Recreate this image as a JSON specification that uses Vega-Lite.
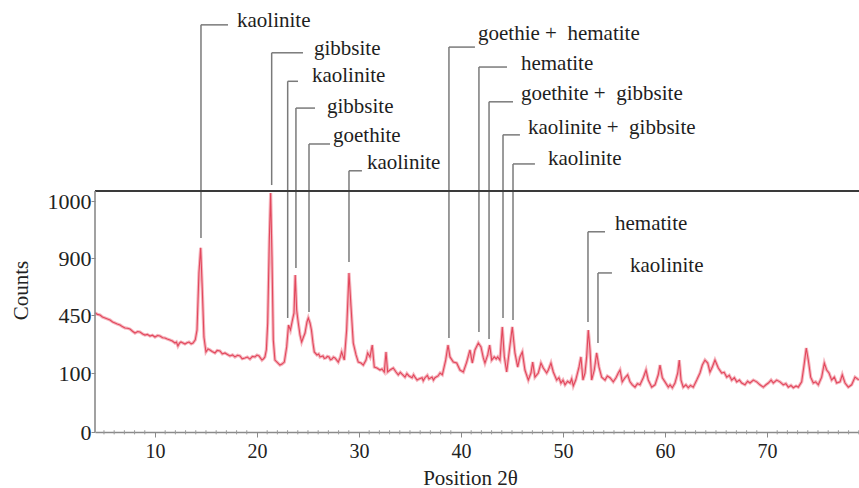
{
  "$schema": "https://vega.github.io/schema/vega-lite/v6.json",
  "width": 764,
  "height": 432,
  "autosize": "none",
  "padding": {"left": 95, "top": 0, "right": 0, "bottom": 56},
  "background": "white",
  "config": {
    "view": {"stroke": null},
    "font": "Liberation Serif",
    "text": {"font": "Times New Roman"},
    "axis": {"labelFont": "Liberation Serif", "titleFont": "Liberation Serif", "labelColor": "#222", "titleColor": "#222", "titleFontWeight": "normal", "grid": false}
  },
  "datasets": {
    "pattern": [
      {"t": 4.12, "c": 468}, {"t": 4.35, "c": 455}, {"t": 4.61, "c": 450}, {"t": 4.85, "c": 438}, {"t": 5.10, "c": 432},
      {"t": 5.35, "c": 426}, {"t": 5.59, "c": 420}, {"t": 5.85, "c": 408}, {"t": 6.08, "c": 402}, {"t": 6.3, "c": 396},
      {"t": 6.57, "c": 390}, {"t": 6.8, "c": 380}, {"t": 7.06, "c": 372}, {"t": 7.3, "c": 370}, {"t": 7.55, "c": 365},
      {"t": 7.8, "c": 352}, {"t": 8.04, "c": 341}, {"t": 8.3, "c": 350}, {"t": 8.53, "c": 347}, {"t": 8.8, "c": 335},
      {"t": 9.02, "c": 329}, {"t": 9.25, "c": 333}, {"t": 9.51, "c": 323}, {"t": 9.75, "c": 328}, {"t": 10.0, "c": 317},
      {"t": 10.25, "c": 326}, {"t": 10.49, "c": 323}, {"t": 10.75, "c": 313}, {"t": 10.98, "c": 311}, {"t": 11.2, "c": 305},
      {"t": 11.47, "c": 299}, {"t": 11.7, "c": 293}, {"t": 11.96, "c": 281}, {"t": 12.1, "c": 287}, {"t": 12.25, "c": 263},
      {"t": 12.4, "c": 280}, {"t": 12.55, "c": 287}, {"t": 12.75, "c": 281}, {"t": 12.94, "c": 275}, {"t": 13.15, "c": 283},
      {"t": 13.33, "c": 287}, {"t": 13.55, "c": 276}, {"t": 13.73, "c": 281}, {"t": 13.95, "c": 300}, {"t": 14.12, "c": 359},
      {"t": 14.31, "c": 782}, {"t": 14.48, "c": 918}, {"t": 14.64, "c": 647}, {"t": 14.80, "c": 317}, {"t": 15.0, "c": 227},
      {"t": 15.2, "c": 245}, {"t": 15.39, "c": 239}, {"t": 15.6, "c": 230}, {"t": 15.88, "c": 221}, {"t": 16.1, "c": 236},
      {"t": 16.37, "c": 233}, {"t": 16.6, "c": 215}, {"t": 16.86, "c": 221}, {"t": 17.1, "c": 212}, {"t": 17.35, "c": 203},
      {"t": 17.6, "c": 209}, {"t": 17.84, "c": 197}, {"t": 18.1, "c": 207}, {"t": 18.33, "c": 203}, {"t": 18.55, "c": 186},
      {"t": 18.82, "c": 191}, {"t": 19.05, "c": 196}, {"t": 19.31, "c": 184}, {"t": 19.55, "c": 200}, {"t": 19.80, "c": 197},
      {"t": 20.0, "c": 208}, {"t": 20.20, "c": 203}, {"t": 20.35, "c": 190}, {"t": 20.49, "c": 178}, {"t": 20.65, "c": 186},
      {"t": 20.78, "c": 197}, {"t": 20.92, "c": 240}, {"t": 21.05, "c": 402}, {"t": 21.21, "c": 932}, {"t": 21.34, "c": 1014},
      {"t": 21.47, "c": 902}, {"t": 21.60, "c": 299}, {"t": 21.76, "c": 178}, {"t": 22.06, "c": 160}, {"t": 22.25, "c": 148},
      {"t": 22.45, "c": 154}, {"t": 22.68, "c": 166}, {"t": 22.91, "c": 257}, {"t": 23.09, "c": 390}, {"t": 23.28, "c": 359},
      {"t": 23.48, "c": 420}, {"t": 23.63, "c": 466}, {"t": 23.75, "c": 766}, {"t": 23.89, "c": 489}, {"t": 24.05, "c": 402},
      {"t": 24.22, "c": 329}, {"t": 24.38, "c": 287}, {"t": 24.56, "c": 317}, {"t": 24.71, "c": 341}, {"t": 24.90, "c": 408},
      {"t": 25.03, "c": 432}, {"t": 25.20, "c": 402}, {"t": 25.34, "c": 359}, {"t": 25.49, "c": 281}, {"t": 25.62, "c": 227},
      {"t": 25.88, "c": 209}, {"t": 26.05, "c": 215}, {"t": 26.18, "c": 197}, {"t": 26.47, "c": 203}, {"t": 26.6, "c": 188},
      {"t": 26.76, "c": 191}, {"t": 26.9, "c": 200}, {"t": 27.06, "c": 197}, {"t": 27.2, "c": 180}, {"t": 27.35, "c": 184},
      {"t": 27.5, "c": 196}, {"t": 27.65, "c": 191}, {"t": 27.97, "c": 166}, {"t": 28.14, "c": 191}, {"t": 28.30, "c": 227},
      {"t": 28.56, "c": 178}, {"t": 28.79, "c": 359}, {"t": 29.02, "c": 782}, {"t": 29.22, "c": 513}, {"t": 29.44, "c": 281},
      {"t": 29.71, "c": 209}, {"t": 29.93, "c": 166}, {"t": 30.20, "c": 160}, {"t": 30.42, "c": 148}, {"t": 30.69, "c": 178},
      {"t": 30.85, "c": 221}, {"t": 31.08, "c": 197}, {"t": 31.30, "c": 269}, {"t": 31.50, "c": 136}, {"t": 31.76, "c": 130},
      {"t": 32.06, "c": 118}, {"t": 32.25, "c": 124}, {"t": 32.48, "c": 106}, {"t": 32.65, "c": 227}, {"t": 32.81, "c": 106},
      {"t": 33.04, "c": 118}, {"t": 33.36, "c": 130}, {"t": 33.63, "c": 106}, {"t": 33.85, "c": 97}, {"t": 34.05, "c": 104},
      {"t": 34.22, "c": 98}, {"t": 34.51, "c": 93}, {"t": 34.7, "c": 99}, {"t": 34.90, "c": 95}, {"t": 35.20, "c": 92},
      {"t": 35.35, "c": 97}, {"t": 35.49, "c": 93}, {"t": 35.7, "c": 88}, {"t": 35.88, "c": 90}, {"t": 36.18, "c": 92},
      {"t": 36.3, "c": 87}, {"t": 36.47, "c": 92}, {"t": 36.7, "c": 96}, {"t": 36.86, "c": 90}, {"t": 37.16, "c": 93},
      {"t": 37.3, "c": 88}, {"t": 37.45, "c": 92}, {"t": 37.75, "c": 95}, {"t": 37.95, "c": 100}, {"t": 38.17, "c": 97},
      {"t": 38.50, "c": 178}, {"t": 38.73, "c": 269}, {"t": 38.92, "c": 197}, {"t": 39.25, "c": 166}, {"t": 39.58, "c": 160},
      {"t": 39.90, "c": 118}, {"t": 40.23, "c": 106}, {"t": 40.56, "c": 166}, {"t": 40.88, "c": 239}, {"t": 41.11, "c": 160},
      {"t": 41.37, "c": 239}, {"t": 41.70, "c": 281}, {"t": 41.96, "c": 257}, {"t": 42.19, "c": 191}, {"t": 42.35, "c": 160},
      {"t": 42.62, "c": 209}, {"t": 42.81, "c": 269}, {"t": 43.01, "c": 178}, {"t": 43.26, "c": 197}, {"t": 43.45, "c": 185},
      {"t": 43.60, "c": 197}, {"t": 43.82, "c": 178}, {"t": 44.05, "c": 378}, {"t": 44.25, "c": 197}, {"t": 44.48, "c": 106},
      {"t": 44.71, "c": 221}, {"t": 45.03, "c": 378}, {"t": 45.29, "c": 221}, {"t": 45.56, "c": 136}, {"t": 45.78, "c": 197},
      {"t": 46.01, "c": 227}, {"t": 46.27, "c": 118}, {"t": 46.60, "c": 88}, {"t": 46.86, "c": 100}, {"t": 47.03, "c": 166},
      {"t": 47.25, "c": 93}, {"t": 47.58, "c": 100}, {"t": 47.84, "c": 160}, {"t": 48.07, "c": 130}, {"t": 48.40, "c": 100},
      {"t": 48.56, "c": 118}, {"t": 48.82, "c": 160}, {"t": 49.05, "c": 106}, {"t": 49.38, "c": 88}, {"t": 49.6, "c": 92},
      {"t": 49.80, "c": 83}, {"t": 50.0, "c": 88}, {"t": 50.20, "c": 80}, {"t": 50.45, "c": 86}, {"t": 50.69, "c": 83},
      {"t": 50.85, "c": 90}, {"t": 51.01, "c": 78}, {"t": 51.25, "c": 88}, {"t": 51.57, "c": 136}, {"t": 51.76, "c": 197},
      {"t": 51.96, "c": 88}, {"t": 52.16, "c": 100}, {"t": 52.32, "c": 197}, {"t": 52.48, "c": 359}, {"t": 52.65, "c": 239},
      {"t": 52.81, "c": 88}, {"t": 53.07, "c": 118}, {"t": 53.30, "c": 221}, {"t": 53.53, "c": 136}, {"t": 53.79, "c": 93},
      {"t": 54.12, "c": 88}, {"t": 54.35, "c": 95}, {"t": 54.61, "c": 92}, {"t": 54.93, "c": 85}, {"t": 55.2, "c": 92},
      {"t": 55.42, "c": 100}, {"t": 55.59, "c": 118}, {"t": 55.81, "c": 85}, {"t": 56.08, "c": 92}, {"t": 56.34, "c": 97},
      {"t": 56.57, "c": 85}, {"t": 56.8, "c": 80}, {"t": 57.06, "c": 76}, {"t": 57.3, "c": 82}, {"t": 57.55, "c": 80},
      {"t": 57.87, "c": 92}, {"t": 58.14, "c": 118}, {"t": 58.36, "c": 88}, {"t": 58.70, "c": 76}, {"t": 59.02, "c": 80},
      {"t": 59.34, "c": 97}, {"t": 59.51, "c": 148}, {"t": 59.74, "c": 92}, {"t": 60.0, "c": 85}, {"t": 60.32, "c": 76},
      {"t": 60.5, "c": 80}, {"t": 60.72, "c": 75}, {"t": 60.98, "c": 83}, {"t": 61.25, "c": 100}, {"t": 61.40, "c": 178},
      {"t": 61.57, "c": 88}, {"t": 61.79, "c": 76}, {"t": 62.05, "c": 80}, {"t": 62.28, "c": 75}, {"t": 62.5, "c": 79},
      {"t": 62.77, "c": 76}, {"t": 63.11, "c": 88}, {"t": 63.43, "c": 100}, {"t": 63.66, "c": 148}, {"t": 63.92, "c": 178},
      {"t": 64.19, "c": 160}, {"t": 64.41, "c": 106}, {"t": 64.64, "c": 136}, {"t": 64.90, "c": 178}, {"t": 65.23, "c": 130},
      {"t": 65.56, "c": 100}, {"t": 65.8, "c": 104}, {"t": 66.05, "c": 93}, {"t": 66.3, "c": 96}, {"t": 66.54, "c": 88},
      {"t": 66.8, "c": 92}, {"t": 67.03, "c": 85}, {"t": 67.3, "c": 88}, {"t": 67.52, "c": 83}, {"t": 67.84, "c": 80},
      {"t": 68.1, "c": 86}, {"t": 68.33, "c": 83}, {"t": 68.66, "c": 88}, {"t": 68.99, "c": 85}, {"t": 69.31, "c": 80},
      {"t": 69.64, "c": 76}, {"t": 69.9, "c": 80}, {"t": 70.13, "c": 83}, {"t": 70.4, "c": 88}, {"t": 70.62, "c": 83},
      {"t": 70.95, "c": 88}, {"t": 71.27, "c": 85}, {"t": 71.60, "c": 80}, {"t": 71.85, "c": 82}, {"t": 72.09, "c": 76},
      {"t": 72.35, "c": 79}, {"t": 72.58, "c": 75}, {"t": 72.85, "c": 78}, {"t": 73.07, "c": 76}, {"t": 73.40, "c": 85},
      {"t": 73.66, "c": 160}, {"t": 73.85, "c": 251}, {"t": 74.05, "c": 178}, {"t": 74.28, "c": 93}, {"t": 74.54, "c": 83},
      {"t": 74.77, "c": 85}, {"t": 75.03, "c": 80}, {"t": 75.36, "c": 93}, {"t": 75.62, "c": 160}, {"t": 75.85, "c": 118},
      {"t": 76.08, "c": 100}, {"t": 76.34, "c": 88}, {"t": 76.60, "c": 93}, {"t": 76.83, "c": 83}, {"t": 77.16, "c": 85},
      {"t": 77.38, "c": 97}, {"t": 77.65, "c": 83}, {"t": 77.97, "c": 76}, {"t": 78.30, "c": 80}, {"t": 78.63, "c": 93},
      {"t": 79.02, "c": 88}
    ],
    "phases": [
      {"label": "kaolinite", "pos": 14.51, "base": 935, "top": 1309, "hend": 17.16, "tx": 18.04, "ty": 1305},
      {"label": "gibbsite", "pos": 21.44, "base": 1028, "top": 1260, "hend": 24.51, "tx": 25.59, "ty": 1256},
      {"label": "kaolinite", "pos": 23.01, "base": 432, "top": 1210, "hend": 24.02, "tx": 25.39, "ty": 1209},
      {"label": "gibbsite", "pos": 23.82, "base": 821, "top": 1163, "hend": 25.69, "tx": 26.86, "ty": 1154},
      {"label": "goethite", "pos": 25.10, "base": 474, "top": 1100, "hend": 27.16, "tx": 27.45, "ty": 1104},
      {"label": "kaolinite", "pos": 29.02, "base": 868, "top": 1053, "hend": 30.29, "tx": 30.78, "ty": 1056},
      {"label": "goethie +\u00a0 hematite", "pos": 38.82, "base": 311, "top": 1270, "hend": 41.37, "tx": 41.67, "ty": 1282},
      {"label": "hematite", "pos": 41.76, "base": 347, "top": 1235, "hend": 44.51, "tx": 45.88, "ty": 1230},
      {"label": "goethite +\u00a0 gibbsite", "pos": 42.75, "base": 305, "top": 1174, "hend": 45.10, "tx": 45.88, "ty": 1177},
      {"label": "kaolinite +\u00a0 gibbsite", "pos": 44.12, "base": 432, "top": 1116, "hend": 45.78, "tx": 46.57, "ty": 1118},
      {"label": "kaolinite", "pos": 45.10, "base": 420, "top": 1065, "hend": 47.25, "tx": 48.53, "ty": 1063},
      {"label": "hematite", "pos": 52.45, "base": 408, "top": 946, "hend": 54.12, "tx": 55.10, "ty": 949},
      {"label": "kaolinite", "pos": 53.43, "base": 281, "top": 782, "hend": 54.80, "tx": 56.57, "ty": 789}
    ],
    "minorTicks": [
      {"t": 5}, {"t": 6}, {"t": 7}, {"t": 8}, {"t": 9}, {"t": 11}, {"t": 12}, {"t": 13}, {"t": 14}, {"t": 15},
      {"t": 16}, {"t": 17}, {"t": 18}, {"t": 19}, {"t": 21}, {"t": 22}, {"t": 23}, {"t": 24}, {"t": 25}, {"t": 26},
      {"t": 27}, {"t": 28}, {"t": 29}, {"t": 31}, {"t": 32}, {"t": 33}, {"t": 34}, {"t": 35}, {"t": 36}, {"t": 37},
      {"t": 38}, {"t": 39}, {"t": 41}, {"t": 42}, {"t": 43}, {"t": 44}, {"t": 45}, {"t": 46}, {"t": 47}, {"t": 48},
      {"t": 49}, {"t": 51}, {"t": 52}, {"t": 53}, {"t": 54}, {"t": 55}, {"t": 56}, {"t": 57}, {"t": 58}, {"t": 59},
      {"t": 61}, {"t": 62}, {"t": 63}, {"t": 64}, {"t": 65}, {"t": 66}, {"t": 67}, {"t": 68}, {"t": 69}, {"t": 71},
      {"t": 72}, {"t": 73}, {"t": 74}, {"t": 75}, {"t": 76}, {"t": 77}, {"t": 78}, {"t": 79}
    ],
    "frame": [{"left": 4.12, "bottom": 0, "top": 1017.5}]
  },
  "layer": [
    {
      "data": {"name": "pattern"},
      "mark": {"type": "line", "color": "#f3a7b2", "strokeWidth": 3.2, "opacity": 0.85},
      "encoding": {
        "x": {
          "field": "t", "type": "quantitative",
          "scale": {"domain": [4.12, 79.02], "nice": false, "zero": false},
          "axis": {
            "values": [10, 20, 30, 40, 50, 60, 70],
            "format": "d",
            "labelFontSize": 20,
            "labelPadding": 4,
            "tickSize": 5,
            "tickColor": "#8a8a8a",
            "domainColor": "#8a8a8a",
            "domainWidth": 1.6,
            "title": "Position 2θ",
            "titleFontSize": 21,
            "titleX": 375,
            "titleY": 52,
            "titleBaseline": "alphabetic"
          }
        },
        "y": {
          "field": "c", "type": "quantitative",
          "scale": {"domain": [0, 100, 450, 900, 1000, 1352.6], "range": [432, 373, 315, 258, 201, 0], "nice": false, "zero": false},
          "axis": {
            "values": [0, 100, 450, 900, 1000],
            "format": "d",
            "labelFontSize": 22,
            "labelPadding": 0,
            "tickSize": 4,
            "tickColor": "#8a8a8a",
            "domain": false,
            "title": "Counts",
            "titleFontSize": 21,
            "titleAngle": -90,
            "titleX": -74,
            "titleY": 290,
            "titleAlign": "center",
            "titleBaseline": "middle"
          }
        }
      }
    },
    {
      "data": {"name": "pattern"},
      "mark": {"type": "line", "color": "#e2475c", "strokeWidth": 1.1},
      "encoding": {
        "x": {"field": "t", "type": "quantitative"},
        "y": {"field": "c", "type": "quantitative"}
      }
    },
    {
      "data": {"name": "minorTicks"},
      "mark": {"type": "rule", "color": "#9a9a9a", "strokeWidth": 1},
      "encoding": {
        "x": {"field": "t", "type": "quantitative"},
        "y": {"datum": -4},
        "y2": {"datum": 3}
      }
    },
    {
      "data": {"name": "phases"},
      "mark": {"type": "rule", "color": "#7a7a7a", "strokeWidth": 1.5},
      "encoding": {
        "x": {"field": "pos", "type": "quantitative"},
        "y": {"field": "base", "type": "quantitative"},
        "y2": {"field": "top"}
      }
    },
    {
      "data": {"name": "phases"},
      "mark": {"type": "rule", "color": "#7a7a7a", "strokeWidth": 1.5},
      "encoding": {
        "x": {"field": "pos", "type": "quantitative"},
        "x2": {"field": "hend"},
        "y": {"field": "top", "type": "quantitative"}
      }
    },
    {
      "data": {"name": "phases"},
      "mark": {"type": "text", "align": "left", "baseline": "alphabetic", "fontSize": 21, "font": "Times New Roman", "color": "#1e1e1e"},
      "encoding": {
        "x": {"field": "tx", "type": "quantitative"},
        "y": {"field": "ty", "type": "quantitative"},
        "text": {"field": "label"}
      }
    },
    {
      "data": {"name": "frame"},
      "mark": {"type": "rule", "color": "#3a3a3a", "strokeWidth": 2},
      "encoding": {"y": {"field": "top", "type": "quantitative"}}
    },
    {
      "data": {"name": "frame"},
      "mark": {"type": "rule", "color": "#8a8a8a", "strokeWidth": 1.6},
      "encoding": {
        "x": {"field": "left", "type": "quantitative"},
        "y": {"field": "bottom", "type": "quantitative"},
        "y2": {"field": "top"}
      }
    }
  ]
}
